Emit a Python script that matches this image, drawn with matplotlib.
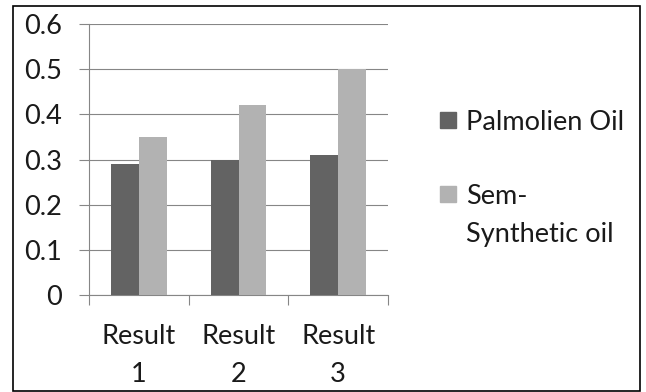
import numpy as np
import matplotlib
matplotlib.use('Agg')
import matplotlib.pyplot as plt
from matplotlib.patches import Rectangle

categories = ['Result\n1', 'Result\n2', 'Result\n3']
series_names = ['Palmolien Oil', 'Sem-\nSynthetic oil']
palm_oil = [0.29, 0.30, 0.31]
semi_synth = [0.35, 0.42, 0.50]
colors = ['#636363', '#b2b2b2']
yticks = [0, 0.1, 0.2, 0.3, 0.4, 0.5, 0.6]
ytick_labels = ['0', '0.1', '0.2', '0.3', '0.4', '0.5', '0.6']

plt.rcParams['font.family'] = ['Lato', 'DejaVu Sans']
grid_col = '#868686'
fs = 19.5
txt_col = '#1a1a1a'

fig = plt.figure(figsize=(6.46, 3.92), dpi=100)
ax = fig.add_axes([0.1378, 0.2474, 0.4628, 0.6913])

x = np.arange(len(categories))
w = 0.28
ax.bar(x - w / 2, palm_oil, w, color=colors[0], zorder=3)
ax.bar(x + w / 2, semi_synth, w, color=colors[1], zorder=3)

ax.set_xlim(-0.5, len(categories) - 0.5)
ax.set_ylim(0, 0.6)
ax.set_yticks(yticks)
ax.set_yticklabels(ytick_labels, fontsize=fs, color=txt_col)
ax.set_xticks(x)
ax.set_xticklabels(categories, fontsize=fs, color=txt_col, linespacing=1.62)
ax.set_xticks(np.arange(-0.5, len(categories)), minor=True)

ax.tick_params(axis='y', length=7.2, width=0.8, color=grid_col, pad=12)
ax.tick_params(axis='x', which='major', length=0, pad=21)
ax.tick_params(axis='x', which='minor', length=7.2, width=0.8, color=grid_col)

ax.yaxis.grid(True, color=grid_col, linewidth=0.8, zorder=0)
ax.set_axisbelow(True)
for side in ['top', 'right']:
    ax.spines[side].set_visible(False)
for side in ['left', 'bottom']:
    ax.spines[side].set_color(grid_col)
    ax.spines[side].set_linewidth(0.8)

# legend, drawn by hand so the swatch sits on the first line of the label
leg_y = [120, 194]
for i, name in enumerate(series_names):
    yc = 1 - leg_y[i] / 392
    fig.add_artist(Rectangle((440 / 646, yc - 8 / 392), 16 / 646, 16 / 392,
                             transform=fig.transFigure, color=colors[i]))
    fig.text(466 / 646, yc + 10 / 392, name, fontsize=fs, color=txt_col,
             va='top', ha='left', linespacing=1.65)

# outer frame
fig.add_artist(Rectangle((13 / 646, 1 / 392), 627 / 646, 385 / 392,
                         transform=fig.transFigure, fill=False,
                         edgecolor='black', linewidth=1.2))

plt.savefig('out.png', dpi=100)
plt.close()
